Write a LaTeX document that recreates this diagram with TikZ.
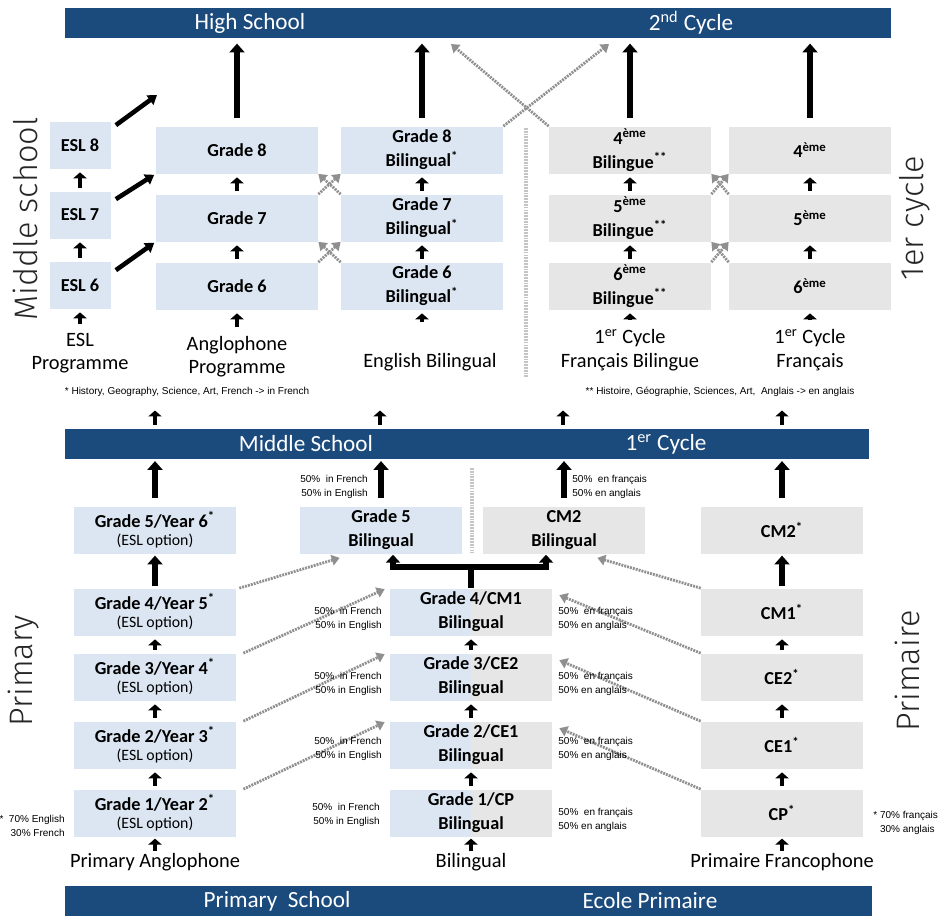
\documentclass[tikz,border=0pt]{standalone}
\usepackage{fontspec}
\setmainfont{Carlito}
\newfontfamily\arialfont{Liberation Sans}
\newfontfamily\lightfont{Fira Sans Light}
\usetikzlibrary{arrows.meta,positioning,calc}
\definecolor{cBand}{HTML}{1B4A7D}
\definecolor{cEng}{HTML}{DCE6F2}
\definecolor{cFra}{HTML}{E6E6E6}
\definecolor{cDot}{HTML}{8F8F8F}
\definecolor{cSep}{HTML}{C4C4C4}
\newcommand{\eslopt}{\\[-3pt]{\fontsize{9}{10}\selectfont\mdseries(ESL option)}}
\newcommand{\sta}{\textsuperscript{*}}

\begin{document}
\begin{tikzpicture}[x=0.2mm,y=-0.2mm,font=\fontsize{11.6}{13.2}\selectfont,
   engbox/.style={fill=cEng,minimum width=3.24cm,minimum height=0.94cm,inner sep=0pt,
                  align=center,font=\fontsize{10.4}{13.6}\selectfont\bfseries},
   frabox/.style={engbox,fill=cFra},
   eslbox/.style={engbox,minimum width=1.22cm},
   duobox/.style={engbox,path picture={\fill[cFra] (path picture bounding box.north)
                  rectangle (path picture bounding box.south east);}},
   banner/.style={fill=cBand,minimum height=0.6cm,inner sep=0pt},
   bantxt/.style={text=white,font=\fontsize{13.2}{15}\selectfont},
   lbl/.style={inner sep=1pt,align=center},
   sidelbl/.style={rotate=90,font=\lightfont\fontsize{18.5}{20}\selectfont,text=black!85},
   pct/.style={inner sep=0pt,font=\arialfont\fontsize{5.7}{8}\selectfont},
   sarr/.style={line width=2.4pt,-{Triangle[length=3.4pt,width=7.5pt]},
                shorten <=2pt,shorten >=2pt},
   barr/.style={line width=3.8pt,-{Triangle[length=5pt,width=8.5pt]}},
   eslarr/.style={line width=2.6pt,-{Triangle[length=5pt,width=6.5pt]}},
   darr/.style={cDot,line width=1.6pt,dash pattern=on 1.1pt off 0.6pt,
                -{Triangle[length=4.5pt,width=6pt]}},
   divider/.style={cSep,line width=1.8pt,dash pattern=on 1pt off 0.6pt}]
  \useasboundingbox (0,0) rectangle (950,916);

  % high school / 2nd cycle
  \node[banner,minimum width=16.52cm] (hs) at (478,23) {};
  \node[bantxt] (hst) at (250,23) {High School};
  \node[bantxt] (sct) at (691,23) {2\textsuperscript{nd} Cycle};

  % middle school / 1er cycle
  \node[eslbox] (esl8) at (80,145) {ESL 8};
  \node[eslbox] (esl7) at (80,215) {ESL 7};
  \node[eslbox] (esl6) at (80,285) {ESL 6};
  \node[engbox] (g8) at (237,150) {Grade 8};
  \node[engbox] (g7) at (237,218) {Grade 7};
  \node[engbox] (g6) at (237,286) {Grade 6};
  \node[engbox] (g8b) at (422,150) {Grade 8\\Bilingual\sta};
  \node[engbox] (g7b) at (422,218) {Grade 7\\Bilingual\sta};
  \node[engbox] (g6b) at (422,286) {Grade 6\\Bilingual\sta};
  \node[frabox] (e4b) at (630,150) {4\textsuperscript{ème}\\Bilingue\textsuperscript{**}};
  \node[frabox] (e5b) at (630,218) {5\textsuperscript{ème}\\Bilingue\textsuperscript{**}};
  \node[frabox] (e6b) at (630,286) {6\textsuperscript{ème}\\Bilingue\textsuperscript{**}};
  \node[frabox] (e4) at (810,150) {4\textsuperscript{ème}};
  \node[frabox] (e5) at (810,218) {5\textsuperscript{ème}};
  \node[frabox] (e6) at (810,286) {6\textsuperscript{ème}};

  \foreach \a/\b in {esl6/esl7,esl7/esl8,g6/g7,g7/g8,g6b/g7b,g7b/g8b,
                     e6b/e5b,e5b/e4b,e6/e5,e5/e4}
    \draw[sarr] (\a) -- (\b);
  \foreach \n in {g8,g8b,e4b,e4}
    \draw[barr,shorten <=4.5pt,shorten >=3pt] (\n) -- (\n |- hs.south);

  \coordinate (esl9) at (157,95);
  \draw[eslarr] ($(esl8.north east)+(5,4)$) -- (esl9);
  \draw[eslarr,shorten >=1pt] ($(esl7.north east)+(5,8)$) -- (g8.south west);
  \draw[eslarr,shorten >=1pt] ($(esl6.north east)+(5,9)$) -- (g7.south west);

  \draw[darr] (g7.north east) -- (g8b.south west);
  \draw[darr] (g7b.north west) -- (g8.south east);
  \draw[darr] (g6.north east) -- (g7b.south west);
  \draw[darr] (g6b.north west) -- (g7.south east);
  \draw[darr] (e5b.north east) -- (e4.south west);
  \draw[darr] (e5.north west) -- (e4b.south east);
  \draw[darr] (e6b.north east) -- (e5.south west);
  \draw[darr] (e6.north west) -- (e5b.south east);
  \coordinate (hsR) at (609,44);
  \coordinate (hsL) at (451,44);
  \draw[darr] (g8b.north east) -- (hsR);
  \draw[darr] (e4b.north west) -- (hsL);
  \draw[divider] (526,128) -- (526,378);

  \node[lbl] (eslp) at (80,353) {ESL\\Programme};
  \node[lbl] (angp) at (237,357) {Anglophone\\Programme};
  \node[lbl] (bilp) at (430,362) {English Bilingual};
  \node[lbl] (fbp) at (630,350) {1\textsuperscript{er} Cycle\\Français Bilingue};
  \node[lbl] (frp) at (810,350) {1\textsuperscript{er} Cycle\\Français};
  \coordinate (ebfoot) at (422,326);
  \draw[sarr,shorten <=4pt] (eslp) -- (esl6);
  \draw[sarr,shorten <=4pt] (angp) -- (g6);
  \draw[sarr] (ebfoot) -- (g6b);
  \draw[sarr,shorten <=4pt] (fbp) -- (e6b);
  \draw[sarr,shorten <=4pt] (frp) -- (e6);
  \node[pct] (fnA) at (187,392) {* History, Geography, Science, Art, French -> in French};
  \node[pct] (fnB) at (720,392) {** Histoire, Géographie, Sciences, Art,\ \ Anglais -> en anglais};

  \node[banner,minimum width=16.08cm] (ms) at (467,444) {};
  \node[bantxt] (mst) at (306,444) {Middle School};
  \node[bantxt] (cyt) at (666,444) {1\textsuperscript{er} Cycle};
  \foreach \x [count=\i] in {155,380,563,782} {
    \coordinate (up\i) at (\x,407);
    \draw[sarr] (ms.north -| up\i) -- (up\i);
  }

  % primary / primaire
  \node[engbox] (an5) at (155,530) {Grade 5/Year 6\sta\eslopt};
  \node[engbox] (bi5) at (381,530) {Grade 5\\Bilingual};
  \node[frabox] (bc5) at (564,530) {CM2\\Bilingual};
  \node[frabox] (fr5) at (782,530) {CM2\sta};
  \node[engbox] (an4) at (155,612) {Grade 4/Year 5\sta\eslopt};
  \node[engbox] (an3) at (155,677) {Grade 3/Year 4\sta\eslopt};
  \node[engbox] (an2) at (155,745) {Grade 2/Year 3\sta\eslopt};
  \node[engbox] (an1) at (155,813) {Grade 1/Year 2\sta\eslopt};
  \node[duobox] (bi4) at (471,612) {Grade 4/CM1\\Bilingual};
  \node[duobox] (bi3) at (471,677) {Grade 3/CE2\\Bilingual};
  \node[duobox] (bi2) at (471,745) {Grade 2/CE1\\Bilingual};
  \node[duobox] (bi1) at (471,813) {Grade 1/CP\\Bilingual};
  \node[frabox] (fr4) at (782,612) {CM1\sta};
  \node[frabox] (fr3) at (782,677) {CE2\sta};
  \node[frabox] (fr2) at (782,745) {CE1\sta};
  \node[frabox] (fr1) at (782,813) {CP\sta};

  \foreach \n in {an5,bi5,bc5,fr5}
    \draw[barr,shorten <=4.5pt,shorten >=1pt] (\n) -- (\n |- ms.south);
  \draw[barr,shorten <=1pt,shorten >=1pt] (an4) -- (an5);
  \draw[barr,shorten <=1pt,shorten >=1pt] (fr4) -- (fr5);
  \foreach \a/\b in {an1/an2,an2/an3,an3/an4,bi1/bi2,bi2/bi3,bi3/bi4,
                     fr1/fr2,fr2/fr3,fr3/fr4}
    \draw[sarr] (\a) -- (\b);

  \coordinate (tj) at (471,567);
  \draw[line width=3pt] (bi4) -- (tj);
  \draw[line width=3pt,-{Triangle[length=4.5pt,width=8pt]},shorten >=0.5pt]
    (tj) -| ($(bi5.south)+(12,0)$);
  \draw[line width=3pt,-{Triangle[length=4.5pt,width=8pt]},shorten >=0.5pt]
    (tj) -| ($(bc5.south)+(-18,0)$);

  \draw[darr] ($(an4.north east)+(3,0)$) -- ($(bi5.south west)+(40,4)$);
  \draw[darr] ($(an3.north east)+(7,0)$) -- ($(bi4.north west)+(-5,1)$);
  \draw[darr] ($(an2.north east)+(7,0)$) -- ($(bi3.north west)+(-5,1)$);
  \draw[darr] ($(an1.north east)+(7,0)$) -- ($(bi2.north west)+(-5,1)$);
  \draw[darr] (fr4.north west) -- ($(bc5.south east)+(-48,4)$);
  \draw[darr] (fr3.north west) -- ($(bi4.north east)+(7,7)$);
  \draw[darr] (fr2.north west) -- ($(bi3.north east)+(7,7)$);
  \draw[darr] (fr1.north west) -- ($(bi2.north east)+(7,7)$);
  \draw[divider] (472,468) -- (472,553);

  \node[pct,anchor=east,align=right] (pl5) at (368,487) {50\%\ \ in French\\50\% in English};
  \node[pct,anchor=west,align=left] (pr5) at (572,487) {50\%\ \ en français\\50\% en anglais};
  \node[pct,anchor=east,align=right] (pl4) at (382,619) {50\%\ \ in French\\50\% in English};
  \node[pct,anchor=west,align=left] (pr4) at (558,619) {50\%\ \ en français\\50\% en anglais};
  \node[pct,anchor=east,align=right] (pl3) at (382,684) {50\%\ \ in French\\50\% in English};
  \node[pct,anchor=west,align=left] (pr3) at (558,684) {50\%\ \ en français\\50\% en anglais};
  \node[pct,anchor=east,align=right] (pl2) at (382,749) {50\%\ \ in French\\50\% in English};
  \node[pct,anchor=west,align=left] (pr2) at (558,749) {50\%\ \ en français\\50\% en anglais};
  \node[pct,anchor=east,align=right] (pl1) at (380,815) {50\%\ \ in French\\50\% in English};
  \node[pct,anchor=west,align=left] (pr1) at (558,820) {50\%\ \ en français\\50\% en anglais};
  \node[pct,anchor=east,align=right] (fnC) at (65,826) {*\ \ 70\% English\\30\% French};
  \node[pct,anchor=west,align=left] (fnD) at (873,823) {* 70\% français\\\phantom{*} 30\% anglais};

  \node[lbl] (anl) at (155,862) {Primary Anglophone};
  \node[lbl] (bil) at (471,862) {Bilingual};
  \node[lbl] (frl) at (782,862) {Primaire Francophone};
  \foreach \a/\b in {anl/an1,bil/bi1,frl/fr1}
    \draw[sarr,shorten <=0pt,shorten >=1pt] (\a) -- (\b);

  \node[banner,minimum width=16.14cm] (ps) at (468.5,901) {};
  \node[bantxt] (pst) at (277,901) {Primary\ \ School};
  \node[bantxt] (ept) at (650,901) {Ecole Primaire};

  % side titles
  \node[sidelbl] (lms) at (25,219) {Middle school};
  \node[sidelbl] (lpr) at (24,671) {Primary};
  \node[sidelbl] (lcy) at (915,218) {1er cycle};
  \node[sidelbl] (lpm) at (907,671) {Primaire};
\end{tikzpicture}
\end{document}
